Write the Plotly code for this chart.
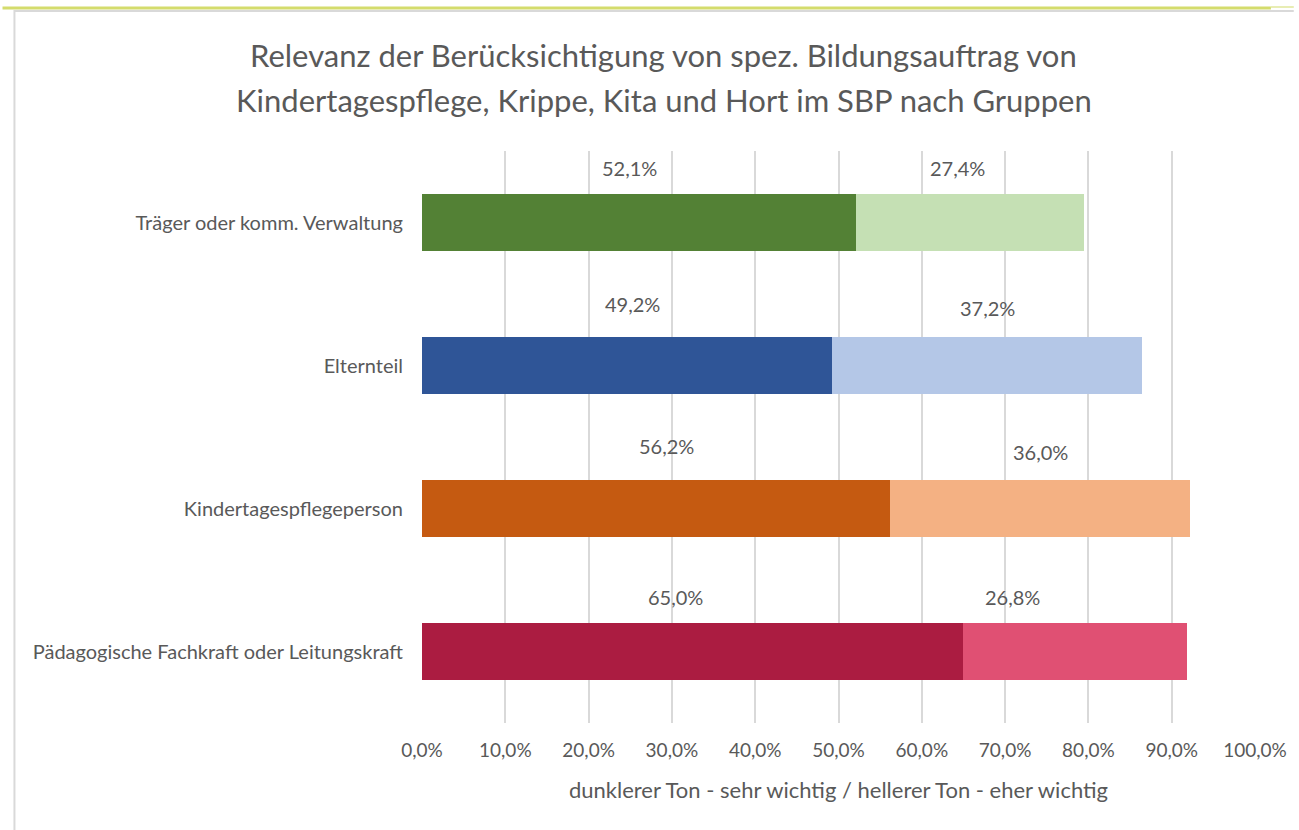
import plotly.graph_objects as go

# data (values in percent)
groups = [
    "Träger oder komm. Verwaltung",
    "Elternteil",
    "Kindertagespflegeperson",
    "Pädagogische Fachkraft oder Leitungskraft",
]
sehr_wichtig = [52.1, 49.2, 56.2, 65.0]
eher_wichtig = [27.4, 37.2, 36.0, 26.8]

dark_colors = ["#538135", "#2f5597", "#c55a11", "#ab1c41"]
light_colors = ["#c5e0b4", "#b4c7e7", "#f4b183", "#e05073"]

title_lines = [
    "Relevanz der Berücksichtigung von spez. Bildungsauftrag von",
    "Kindertagespflege, Krippe, Kita und Hort im SBP nach Gruppen",
]
x_title = "dunklerer Ton - sehr wichtig / hellerer Ton - eher wichtig"

FONT = "Lato"
GREY = "#595959"

# chart geometry (pixels)
W, H = 1299, 830
L, R, T, B = 422, 1260, 151, 723


def fmt(v):
    return f"{v:.1f}".replace(".", ",") + "%"


fig = go.Figure()
fig.add_trace(go.Bar(
    y=groups, x=sehr_wichtig, orientation="h",
    marker=dict(color=dark_colors, line=dict(width=0)),
    name="sehr wichtig", hoverinfo="x+y",
))
fig.add_trace(go.Bar(
    y=groups, x=eher_wichtig, orientation="h",
    marker=dict(color=light_colors, line=dict(width=0)),
    name="eher wichtig", hoverinfo="x+y",
))

# data labels sit above the bars, nudged by hand like in the Excel original
dark_dx = [-10, 6, 10, -17]
dark_dy = [55, 62, 63, 55]
light_dx = [-13, 1, 0, -63]
light_dy = [55, 58, 57, 55]
for i, g in enumerate(groups):
    d, l = sehr_wichtig[i], eher_wichtig[i]
    fig.add_annotation(x=d / 2, y=g, text=fmt(d), showarrow=False,
                       xshift=dark_dx[i], yshift=dark_dy[i],
                       font=dict(family=FONT, size=20, color=GREY))
    fig.add_annotation(x=d + l / 2, y=g, text=fmt(l), showarrow=False,
                       xshift=light_dx[i], yshift=light_dy[i],
                       font=dict(family=FONT, size=20, color=GREY))

for k, line in enumerate(title_lines):
    fig.add_annotation(text=line, xref="paper", yref="paper",
                       x=(665 - L) / (R - L), y=(B - (55 + 45 * k)) / (B - T),
                       showarrow=False, xanchor="center", yanchor="middle",
                       font=dict(family=FONT, size=31, color=GREY))


def px(xp):
    return (xp - L) / (R - L)


def py(yp):
    return (B - yp) / (B - T)


shapes = [
    # olive rule along the top of the sheet
    dict(type="line", xref="paper", yref="paper", x0=px(0), x1=px(1276),
         y0=py(8), y1=py(8), line=dict(color="#d4dc6c", width=3)),
    dict(type="line", xref="paper", yref="paper", x0=px(1276), x1=px(1299),
         y0=py(7), y1=py(7), line=dict(color="#e8edb4", width=2)),
    # chart area border (top and left)
    dict(type="line", xref="paper", yref="paper", x0=px(12), x1=px(1299),
         y0=py(11), y1=py(11), line=dict(color="#d9d9d9", width=2)),
    dict(type="line", xref="paper", yref="paper", x0=px(12), x1=px(12),
         y0=py(10), y1=py(830), line=dict(color="#d9d9d9", width=2)),
]

fig.update_layout(
    width=W, height=H,
    margin=dict(l=L, r=W - R, t=T, b=H - B),
    barmode="stack", bargap=0.6,
    showlegend=False,
    plot_bgcolor="white", paper_bgcolor="white",
    separators=",.",
    shapes=shapes,
    font=dict(family=FONT, color=GREY),
)
fig.update_xaxes(
    range=[0, 100], dtick=10, tickformat=".1f", ticksuffix="%",
    showgrid=True, gridcolor="#d9d9d9", gridwidth=1.5,
    zeroline=False, showline=False, ticks="",
    ticklabelstandoff=14,
    tickfont=dict(family=FONT, size=19, color=GREY),
    title=dict(text=x_title, standoff=22,
               font=dict(family=FONT, size=22, color=GREY)),
)
fig.update_yaxes(
    autorange="reversed", showgrid=False, zeroline=False, showline=False,
    ticks="", ticklabelstandoff=18,
    tickfont=dict(family=FONT, size=20, color=GREY),
)

fig.write_html("out.html", config={"displayModeBar": False},
               post_script="document.body.style.margin = '0';")
